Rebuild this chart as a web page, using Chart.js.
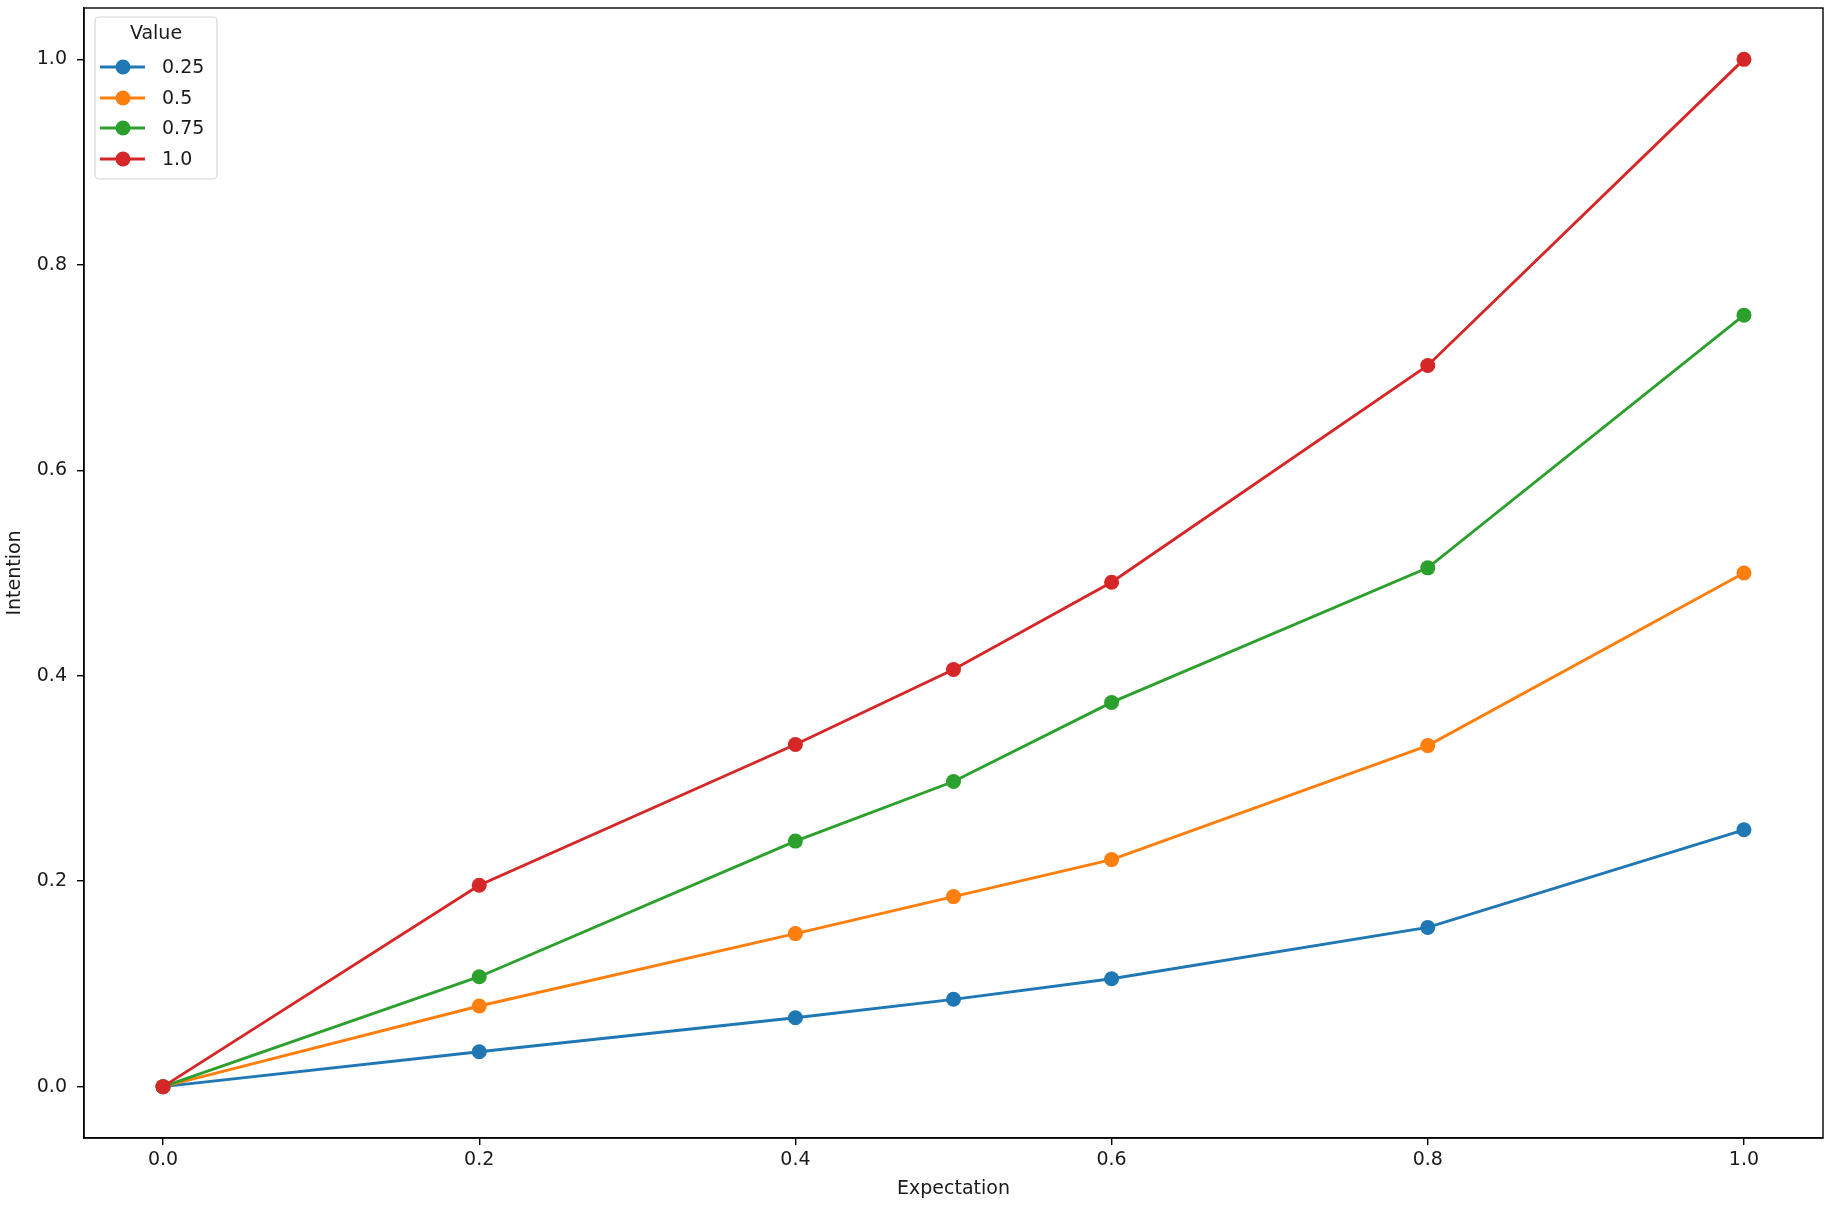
<!DOCTYPE html>
<html><head><meta charset="utf-8">
<script src="https://cdn.jsdelivr.net/npm/chart.js@4.4.1/dist/chart.umd.min.js"></script>
<style>html,body{margin:0;padding:0;background:#fff;overflow:hidden}#wrap{width:1831px;height:1208px;position:relative}</style>
</head><body><div id="wrap"><canvas id="c" width="1831" height="1208"></canvas></div>
<script>
const expectation = [0, 0.2, 0.4, 0.5, 0.6, 0.8, 1.0];
const seriesLabels = ['0.25', '0.5', '0.75', '1.0'];
const intention025 = [0, 0.034, 0.067, 0.085, 0.105, 0.155, 0.25];
const intention050 = [0, 0.0785, 0.149, 0.185, 0.221, 0.332, 0.5];
const intention075 = [0, 0.107, 0.239, 0.297, 0.374, 0.505, 0.751];
const intention100 = [0, 0.196, 0.333, 0.406, 0.491, 0.702, 1.0];
const xTicks = [0, 0.2, 0.4, 0.6, 0.8, 1.0];
const yTicks = [0, 0.2, 0.4, 0.6, 0.8, 1.0];
const colors = ['#1f77b4', '#ff7f0e', '#2ca02c', '#d62728'];
const seriesValues = [intention025, intention050, intention075, intention100];

const FONT = 'DejaVu Sans';
const TXT = '#1a1a1a';

const datasets = seriesValues.map((vals, i) => ({
  label: seriesLabels[i],
  data: expectation.map((x, j) => ({x: x, y: vals[j]})),
  borderColor: colors[i],
  backgroundColor: colors[i],
  pointBackgroundColor: colors[i],
  pointBorderColor: colors[i],
  pointRadius: 7.5,
  pointBorderWidth: 0,
  borderWidth: 2.9,
  tension: 0,
  order: seriesValues.length - i
}));

const framePlugin = {
  id: 'frame',
  afterDatasetsDraw(chart) {
    const {ctx, chartArea: a} = chart;
    ctx.save();
    ctx.strokeStyle = '#000';
    ctx.lineWidth = 1.4;
    ctx.strokeRect(a.left, a.top, a.right - a.left, a.bottom - a.top);
    ctx.restore();
  }
};

const legendPlugin = {
  id: 'mplLegend',
  afterDraw(chart) {
    const ctx = chart.ctx;
    const bx = 95, by = 17, bw = 122, bh = 162;
    ctx.save();
    ctx.beginPath();
    ctx.roundRect(bx, by, bw, bh, 4);
    ctx.fillStyle = 'rgba(255,255,255,0.8)';
    ctx.fill();
    ctx.strokeStyle = '#d6d6d6';
    ctx.lineWidth = 1.2;
    ctx.stroke();
    ctx.font = '19px "' + FONT + '"';
    ctx.fillStyle = TXT;
    ctx.textAlign = 'center';
    ctx.textBaseline = 'middle';
    ctx.fillText('Value', bx + bw / 2, 34);
    const rows = [67, 98, 128, 159];
    chart.data.datasets.forEach((ds, i) => {
      const y = rows[i];
      ctx.strokeStyle = ds.borderColor;
      ctx.lineWidth = 2.9;
      ctx.beginPath();
      ctx.moveTo(100, y);
      ctx.lineTo(145, y);
      ctx.stroke();
      ctx.fillStyle = ds.borderColor;
      ctx.beginPath();
      ctx.arc(123, y, 7.5, 0, Math.PI * 2);
      ctx.fill();
      ctx.fillStyle = TXT;
      ctx.textAlign = 'left';
      ctx.fillText(ds.label, 162, y + 1);
    });
    ctx.restore();
  }
};

function zeroPad(s) { s.paddingTop = 0; s.paddingBottom = 0; s.paddingLeft = 0; s.paddingRight = 0; }

new Chart(document.getElementById('c'), {
  type: 'line',
  data: {datasets},
  options: {
    responsive: false,
    animation: false,
    devicePixelRatio: 1,
    layout: {padding: {left: 0, top: 8, right: 8, bottom: 0}},
    plugins: {legend: {display: false}, tooltip: {enabled: false}},
    scales: {
      x: {
        type: 'linear',
        min: -0.05, max: 1.05,
        afterBuildTicks(s) { s.ticks = xTicks.map(v => ({value: v})); },
        afterFit(s) { s.height = 70; zeroPad(s); },
        grid: {drawOnChartArea: false, drawTicks: true, tickLength: 7, color: '#000', lineWidth: 1.4},
        border: {display: true, color: '#000', width: 1.4},
        ticks: {
          color: TXT, font: {family: FONT, size: 19}, padding: 4,
          maxRotation: 0, autoSkip: false,
          callback: v => Number(v).toFixed(1)
        },
        title: {display: true, text: 'Expectation', color: TXT, font: {family: FONT, size: 19}, padding: {top: 0, bottom: 8}}
      },
      y: {
        type: 'linear',
        min: -0.05, max: 1.05,
        afterBuildTicks(s) { s.ticks = yTicks.map(v => ({value: v})); },
        afterFit(s) { s.width = 84; zeroPad(s); },
        grid: {drawOnChartArea: false, drawTicks: true, tickLength: 7, color: '#000', lineWidth: 1.4},
        border: {display: true, color: '#000', width: 1.4},
        ticks: {
          color: TXT, font: {family: FONT, size: 19}, padding: 10,
          autoSkip: false,
          callback: v => Number(v).toFixed(1)
        },
        title: {display: true, text: 'Intention', color: TXT, font: {family: FONT, size: 19}, padding: {top: 4, bottom: 0}}
      }
    }
  },
  plugins: [framePlugin, legendPlugin]
});
</script>
</body></html>
